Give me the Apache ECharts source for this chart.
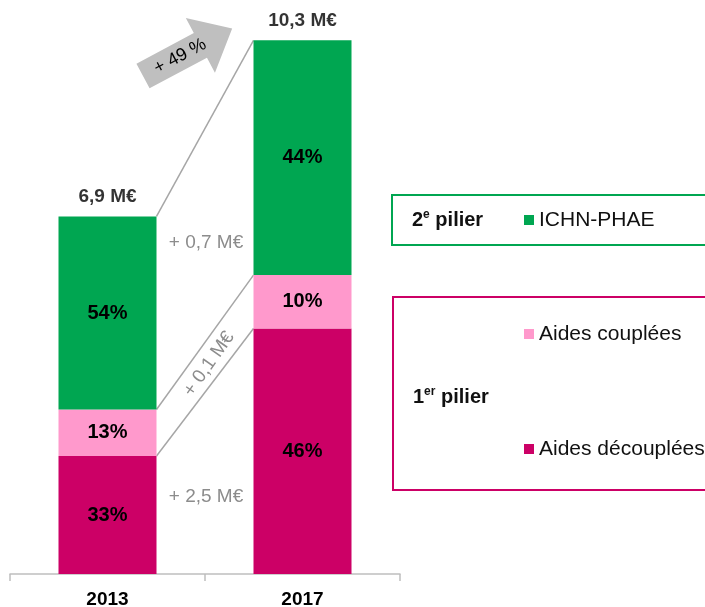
<!DOCTYPE html>
<html>
<head>
<meta charset="utf-8">
<script src="https://cdn.jsdelivr.net/npm/echarts@6/dist/echarts.min.js"></script>
<style>
  html, body { margin: 0; padding: 0; background: #fff; }
  #chart { width: 705px; height: 607px; }
</style>
</head>
<body>
<div id="chart"></div>
<script>
// Données (M€ et parts en %)
const years = ['2013', '2017'];
const totals = [6.9, 10.3];
const totalLabels = ['6,9 M€', '10,3 M€'];
const shareDecouplees = [33, 46];
const shareCouplees = [13, 10];
const shareIchn = [54, 44];
const deltaLabels = ['+ 2,5 M€', '+ 0,1 M€', '+ 0,7 M€'];
const growthLabel = '+ 49 %';

const GREEN = '#00A651';
const PINK = '#FF99CC';
const MAGENTA = '#CC0066';
const FONT = 'Liberation Sans, Arial, sans-serif';

// montants de chaque segment
const toAmount = shares => shares.map((s, i) => totals[i] * s / 100);
const decouplees = toAmount(shareDecouplees);
const couplees = toAmount(shareCouplees);
const ichn = toAmount(shareIchn);

// limites cumulées pour les traits de liaison
const boundaries = [
    [decouplees[0], decouplees[1]],
    [decouplees[0] + couplees[0], decouplees[1] + couplees[1]],
    [totals[0], totals[1]]
];

const BAR_W = 98;

function barSeries(name, data, shares, color) {
    return {
        name: name,
        type: 'bar',
        stack: 'total',
        barWidth: BAR_W,
        data: data,
        itemStyle: { color: color },
        label: {
            show: true,
            position: 'inside',
            formatter: p => shares[p.dataIndex] + '%',
            fontFamily: FONT,
            fontSize: 20,
            fontWeight: 'bold',
            color: '#000'
        }
    };
}

const legendText = { fontFamily: FONT, fontSize: 21, color: '#111', lineHeight: 22 };
const grayText = { fontFamily: FONT, fontSize: 19, fill: '#8C8C8C', align: 'center', verticalAlign: 'middle' };
const pilierRich = {
    b: { fontFamily: FONT, fontSize: 20, fontWeight: 'bold', fill: '#111', lineHeight: 22 },
    s: { fontFamily: FONT, fontSize: 12, fontWeight: 'bold', fill: '#111', lineHeight: 22, verticalAlign: 'top', padding: [0, 0, 7, 0] }
};

const chart = echarts.init(document.getElementById('chart'));

chart.setOption({
    animation: false,
    grid: { left: 10, right: 305, top: 4, bottom: 33, outerBoundsMode: 'none', containLabel: false },
    xAxis: {
        type: 'category',
        data: years,
        axisLine: { lineStyle: { color: '#BFBFBF', width: 1.5 } },
        axisTick: { show: true, length: 7, lineStyle: { color: '#BFBFBF', width: 1.5 } },
        axisLabel: {
            fontFamily: FONT,
            fontSize: 19,
            fontWeight: 'bold',
            color: '#000',
            margin: 16
        }
    },
    yAxis: { type: 'value', min: 0, max: 11, show: false },
    legend: [
        {
            data: ['ICHN-PHAE'],
            left: 519,
            top: 204,
            itemWidth: 10,
            itemHeight: 10,
            icon: 'rect',
            itemGap: 6,
            textStyle: legendText,
            selectedMode: false
        },
        {
            data: ['Aides couplées', 'Aides découplées'],
            orient: 'vertical',
            left: 519,
            top: 318,
            itemWidth: 10,
            itemHeight: 10,
            icon: 'rect',
            itemGap: 93,
            textStyle: legendText,
            selectedMode: false
        }
    ],
    series: [
        barSeries('Aides découplées', decouplees, shareDecouplees, MAGENTA),
        barSeries('Aides couplées', couplees, shareCouplees, PINK),
        barSeries('ICHN-PHAE', ichn, shareIchn, GREEN),
        {
            // totaux au-dessus des barres
            type: 'scatter',
            data: totals,
            symbolSize: 0,
            silent: true,
            label: {
                show: true,
                position: 'top',
                distance: 10,
                formatter: p => totalLabels[p.dataIndex],
                fontFamily: FONT,
                fontSize: 19,
                fontWeight: 'bold',
                color: '#000'
            },
            z: 5
        },
        {
            // traits de liaison entre les deux barres
            type: 'custom',
            silent: true,
            data: boundaries,
            renderItem: function (params, api) {
                const a = api.coord([0, api.value(0)]);
                const b = api.coord([1, api.value(1)]);
                return {
                    type: 'line',
                    shape: { x1: a[0] + BAR_W / 2, y1: a[1], x2: b[0] - BAR_W / 2, y2: b[1] },
                    style: { stroke: '#A6A6A6', lineWidth: 1.5 }
                };
            },
            encode: { x: -1, y: [0, 1] },
            z: 1
        }
    ],
    graphic: [
        // flèche de croissance
        {
            type: 'group',
            x: 143,
            y: 76,
            rotation: 28 * Math.PI / 180,
            children: [
                {
                    type: 'polygon',
                    shape: { points: [[0, -14], [65, -14], [65, -31], [101, 0], [65, 31], [65, 14], [0, 14]] },
                    style: { fill: '#BFBFBF' }
                },
                {
                    type: 'text',
                    x: 42,
                    y: 0,
                    style: {
                        text: growthLabel,
                        fontFamily: FONT,
                        fontSize: 18,
                        fill: '#000',
                        align: 'center',
                        verticalAlign: 'middle'
                    }
                }
            ]
        },
        // écarts en M€
        { type: 'text', x: 206, y: 497, style: Object.assign({ text: deltaLabels[0] }, grayText) },
        { type: 'text', x: 209, y: 364, rotation: 55 * Math.PI / 180, style: Object.assign({ text: deltaLabels[1] }, grayText) },
        { type: 'text', x: 206, y: 243, style: Object.assign({ text: deltaLabels[2] }, grayText) },
        // cadres des piliers
        {
            type: 'rect',
            shape: { x: 392, y: 195, width: 340, height: 50 },
            style: { fill: 'none', stroke: GREEN, lineWidth: 2 }
        },
        {
            type: 'rect',
            shape: { x: 393, y: 297, width: 340, height: 193 },
            style: { fill: 'none', stroke: MAGENTA, lineWidth: 2 }
        },
        { type: 'text', x: 412, y: 209, style: { text: '{b|2}{s|e}{b| pilier}', rich: pilierRich } },
        { type: 'text', x: 413, y: 386, style: { text: '{b|1}{s|er}{b| pilier}', rich: pilierRich } }
    ]
});

window.addEventListener('resize', () => chart.resize());
</script>
</body>
</html>
